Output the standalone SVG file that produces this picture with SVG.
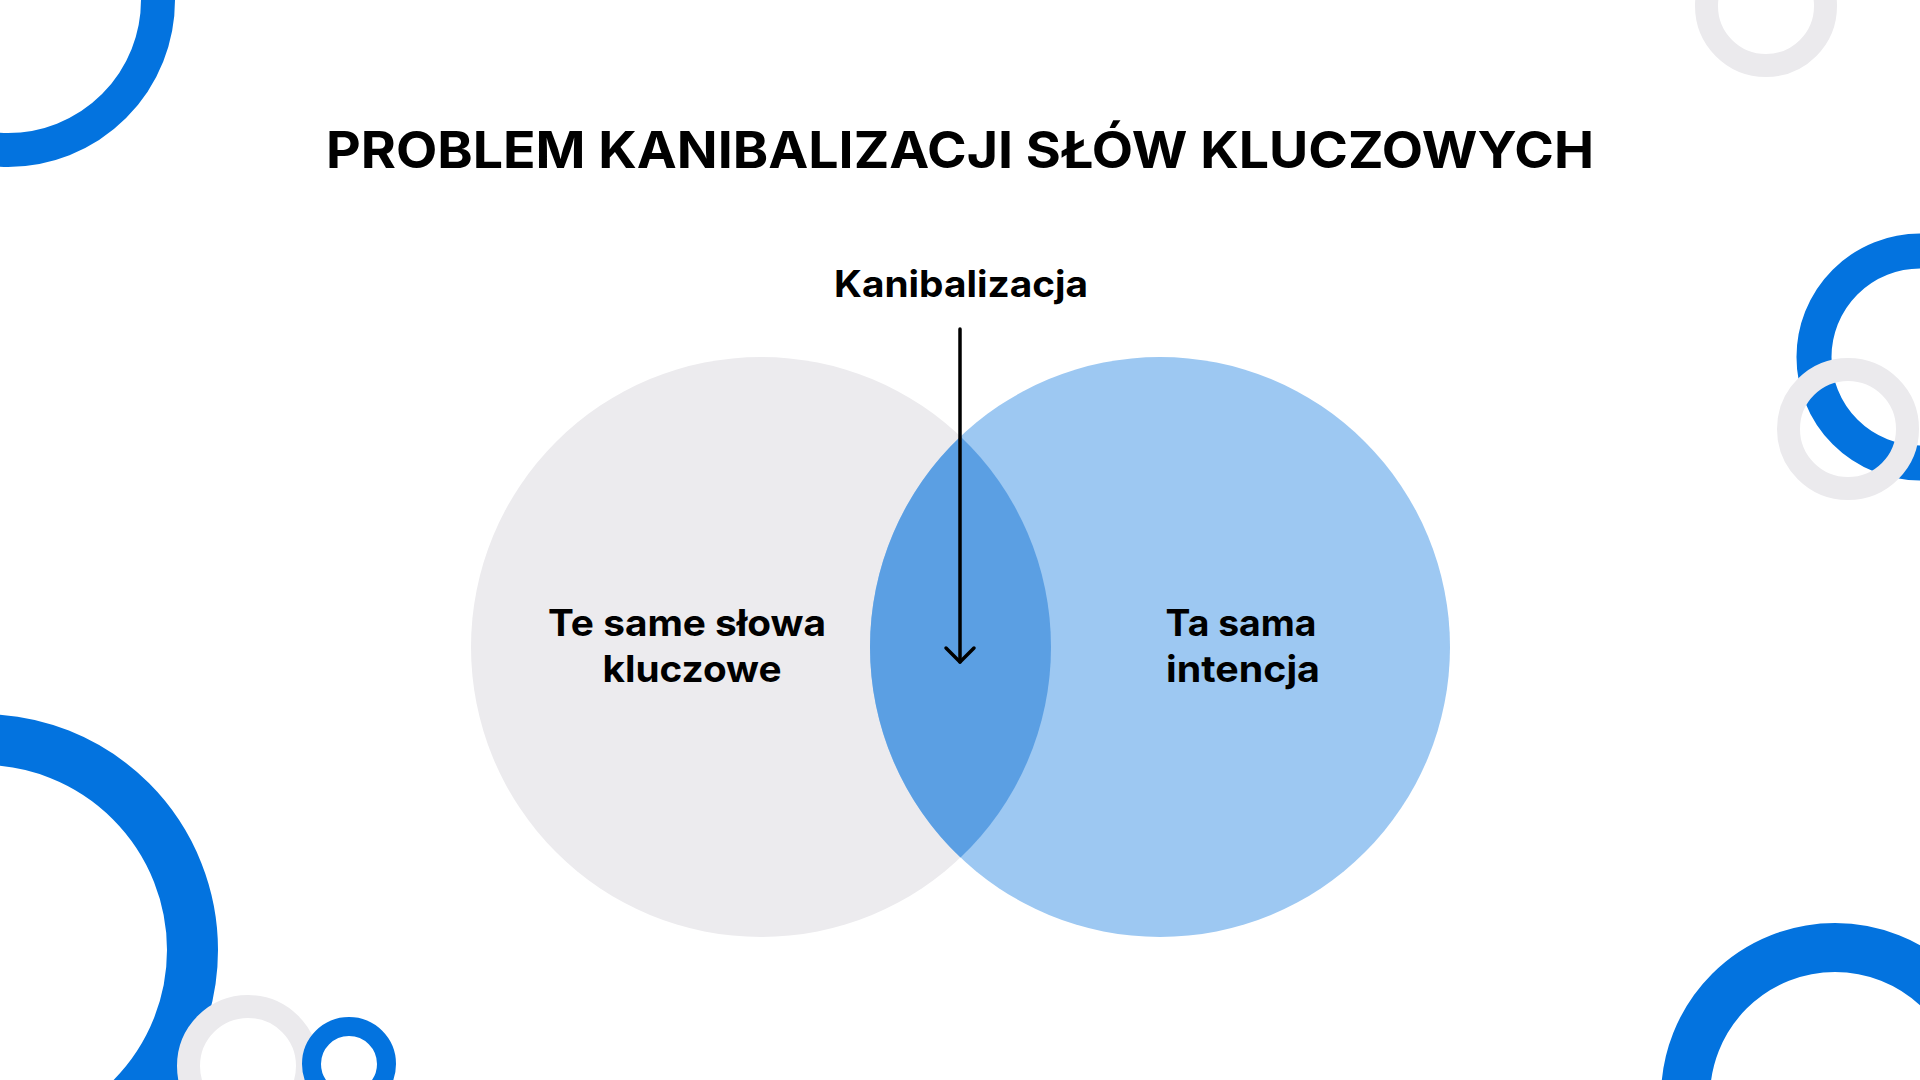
<svg xmlns="http://www.w3.org/2000/svg" width="1920" height="1080" viewBox="0 0 1920 1080">
  <defs>
    <style>
      .ring-blue { fill: none; stroke: #0373DF; }
      .ring-gray { fill: none; stroke: #EBEAED; }
      .title { font-family: "Inter", "Liberation Sans", sans-serif; font-weight: 700; font-size: 51px; fill: #000000; }
      .label { font-family: "Inter", "Liberation Sans", sans-serif; font-weight: 700; font-size: 37px; fill: #000000; text-anchor: middle; }
      .conn { stroke: #000000; stroke-width: 3.5; fill: none; stroke-linecap: round; }
    </style>
    <marker id="chevron" markerUnits="userSpaceOnUse" markerWidth="32" markerHeight="32" refX="15" refY="15" orient="auto" overflow="visible">
      <path d="M1 1 L15 15 L1 29" fill="none" stroke="#000000" stroke-width="3.5" stroke-linecap="round" stroke-linejoin="round"/>
    </marker>
  </defs>

  <rect x="0" y="0" width="1920" height="1080" fill="#FFFFFF"/>

  <g id="decorations">
    <circle class="ring-blue" cx="8" cy="0" r="150" stroke-width="34"/>
    <circle class="ring-gray" cx="1766" cy="6" r="59.5" stroke-width="23"/>
    <circle class="ring-blue" cx="1920" cy="357" r="106" stroke-width="35"/>
    <circle class="ring-gray" cx="1848" cy="429" r="59.5" stroke-width="23"/>
    <circle class="ring-blue" cx="-18" cy="950" r="210.5" stroke-width="51"/>
    <circle class="ring-gray" cx="248" cy="1066" r="59.5" stroke-width="23"/>
    <circle class="ring-blue" cx="349" cy="1064" r="37.5" stroke-width="19"/>
    <circle class="ring-blue" cx="1835" cy="1097" r="149.5" stroke-width="49"/>
  </g>

  <g id="title">
    <text class="title" x="960" y="168" text-anchor="middle" textLength="1268" lengthAdjust="spacingAndGlyphs">PROBLEM KANIBALIZACJI SŁÓW KLUCZOWYCH</text>
  </g>

  <g id="node-same-keywords">
    <circle cx="761" cy="647" r="290" fill="#ECEBEE"/>
  </g>

  <g id="node-same-intent">
    <circle cx="1160" cy="647" r="290" fill="#9DC8F2"/>
  </g>

  <g id="node-overlap">
    <path d="M960.5 436.53 A290 290 0 0 1 960.5 857.47 A290 290 0 0 1 960.5 436.53 Z" fill="#5B9FE3"/>
  </g>

  <g id="labels">
    <text class="label" x="687" y="636" textLength="278" lengthAdjust="spacingAndGlyphs">Te same słowa</text>
    <text class="label" x="692" y="682" textLength="179" lengthAdjust="spacingAndGlyphs">kluczowe</text>
    <text class="label" x="1241" y="636" textLength="151" lengthAdjust="spacingAndGlyphs">Ta sama</text>
    <text class="label" x="1243" y="682" textLength="154" lengthAdjust="spacingAndGlyphs">intencja</text>
  </g>

  <g id="node-kanibalizacja">
    <text class="label" x="961" y="297" textLength="254" lengthAdjust="spacingAndGlyphs">Kanibalizacja</text>
  </g>

  <g id="connectors">
    <line class="conn" x1="960" y1="329" x2="960" y2="662" stroke-linecap="butt" marker-end="url(#chevron)"/>
  </g>
</svg>
